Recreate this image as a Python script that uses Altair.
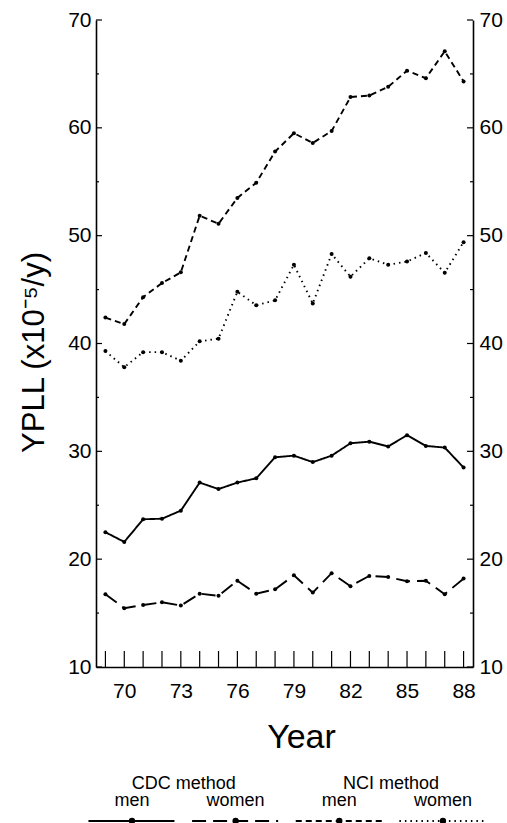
import altair as alt
import pandas as pd

# ---------------- data ----------------
years = list(range(69, 89))
cdc_men = [22.5, 21.6, 23.7, 23.75, 24.5, 27.1, 26.5, 27.1, 27.5, 29.45,
           29.6, 29.0, 29.6, 30.75, 30.9, 30.45, 31.5, 30.5, 30.35, 28.5]
cdc_women = [16.75, 15.45, 15.75, 16.0, 15.7, 16.8, 16.6, 18.0, 16.8, 17.2,
             18.5, 16.9, 18.7, 17.5, 18.45, 18.35, 17.95, 18.0, 16.75, 18.2]
nci_men = [42.4, 41.8, 44.3, 45.6, 46.6, 51.85, 51.1, 53.5, 54.9, 57.8,
           59.5, 58.6, 59.7, 62.85, 63.0, 63.8, 65.3, 64.6, 67.1, 64.3]
nci_women = [39.3, 37.8, 39.2, 39.2, 38.4, 40.2, 40.45, 44.8, 43.55, 44.0,
             47.3, 43.7, 48.3, 46.2, 47.9, 47.3, 47.6, 48.4, 46.55, 49.4]

series_names = ["CDC men", "CDC women", "NCI men", "NCI women"]
series_methods = ["CDC method", "CDC method", "NCI method", "NCI method"]
series_sexes = ["men", "women", "men", "women"]
series_dash = [[1, 0], [14, 7], [6, 4], [1.5, 4]]

x_label_values = [70, 73, 76, 79, 82, 85, 88]
y_major = [10, 20, 30, 40, 50, 60, 70]
y_minor = [15, 25, 35, 45, 55, 65]

# ---------------- tables ----------------
values = [cdc_men, cdc_women, nci_men, nci_women]
rows = []
for name, vals in zip(series_names, values):
    for yr, v in zip(years, vals):
        rows.append({"year": yr, "value": v, "series": name})
df = pd.DataFrame(rows)

df_years = pd.DataFrame({"year": years})
df_major = pd.DataFrame({"v": y_major})
df_minor = pd.DataFrame({"v": y_minor})

leg = pd.DataFrame({
    "idx": [1, 2, 3, 4],
    "series": series_names,
    "method": series_methods,
    "sex": series_sexes,
})
heads = leg.groupby("method", as_index=False)["idx"].mean()

FONT = "Liberation Sans"
X_MIN, X_MAX = 68.5, 88.5
Y_MIN, Y_MAX = 10, 70
W = 377          # plot width
H_PLOT = 647     # height of the data rectangle
H_ALL = 803      # data rectangle + legend strip

xs = alt.Scale(domain=[X_MIN, X_MAX], nice=False, zero=False)
ys = alt.Scale(domain=[Y_MIN, Y_MAX], range=[H_PLOT, 0], nice=False, zero=False)
dash_scale = alt.Scale(domain=series_names, range=series_dash)

x_axis = alt.Axis(values=x_label_values, format="d", title="Year",
                  offset=H_PLOT - H_ALL,
                  ticks=False, tickSize=0, grid=False, labelFlush=False,
                  domainColor="black", domainWidth=1.6,
                  labelFont=FONT, labelFontSize=21, labelColor="black",
                  labelPadding=13,
                  titleFont=FONT, titleFontSize=34, titleFontWeight="normal",
                  titleColor="black", titleBaseline="alphabetic",
                  titleX=205, titleY=80)

y_axis_left = alt.Axis(orient="left", values=y_major, format="d",
                       title="YPLL (x10⁻⁵/y)",
                       ticks=False, tickSize=0, grid=False, labelFlush=False,
                       domainColor="black", domainWidth=1.6,
                       labelFont=FONT, labelFontSize=21, labelColor="black",
                       labelPadding=5,
                       titleFont=FONT, titleFontSize=31,
                       titleFontWeight="normal", titleColor="black",
                       titleAngle=270, titleBaseline="alphabetic",
                       titleAlign="center", titleX=-53, titleY=332)

y_axis_right = alt.Axis(orient="right", values=y_major, format="d",
                        title=None,
                        ticks=False, tickSize=0, grid=False, labelFlush=False,
                        domainColor="black", domainWidth=1.6,
                        labelFont=FONT, labelFontSize=21, labelColor="black",
                        labelPadding=6)

base = alt.Chart(df)

lines = base.mark_line(strokeWidth=1.9, color="black").encode(
    x=alt.X("year:Q", scale=xs, axis=x_axis),
    y=alt.Y("value:Q", scale=ys, axis=y_axis_left),
    strokeDash=alt.StrokeDash("series:N", scale=dash_scale, legend=None),
    detail="series:N",
)

points = base.mark_circle(size=16, color="black", opacity=1).encode(
    x=alt.X("year:Q", scale=xs, axis=None),
    y=alt.Y("value:Q", scale=ys, axis=None),
)

left_major = alt.Chart(df_major).mark_rule(color="black", strokeWidth=1.2,
                                           x2Offset=6).encode(
    x=alt.XDatum(X_MIN, scale=xs, axis=None),
    x2=alt.X2Datum(X_MIN),
    y=alt.Y("v:Q", scale=ys, axis=None),
)
left_minor = alt.Chart(df_minor).mark_rule(color="black", strokeWidth=1.2,
                                           x2Offset=3).encode(
    x=alt.XDatum(X_MIN, scale=xs, axis=None),
    x2=alt.X2Datum(X_MIN),
    y=alt.Y("v:Q", scale=ys, axis=None),
)
right_major = alt.Chart(df_major).mark_rule(color="black", strokeWidth=1.2,
                                            x2Offset=-6).encode(
    x=alt.XDatum(X_MAX, scale=xs, axis=None),
    x2=alt.X2Datum(X_MAX),
    y=alt.Y("v:Q", scale=ys, axis=y_axis_right),
)
right_minor = alt.Chart(df_minor).mark_rule(color="black", strokeWidth=1.2,
                                            x2Offset=-3).encode(
    x=alt.XDatum(X_MAX, scale=xs, axis=None),
    x2=alt.X2Datum(X_MAX),
    y=alt.Y("v:Q", scale=ys, axis=None),
)
bottom_ticks = alt.Chart(df_years).mark_rule(color="black", strokeWidth=1.2,
                                             y2Offset=-16).encode(
    x=alt.X("year:Q", scale=xs, axis=None),
    y=alt.YDatum(Y_MIN, scale=ys, axis=None),
    y2=alt.Y2Datum(Y_MIN),
)

# ---------------- legend strip (own scales, below the plot) ----------------
lx = alt.Scale(domain=[0.653, 4.29], nice=False, zero=False)
ly = alt.Scale(domain=[-0.138, 3.31], range=[H_ALL, H_ALL - 50],
               nice=False, zero=False)

leg_base = alt.Chart(leg)
leg_lines = leg_base.mark_rule(strokeWidth=1.9, color="black").transform_calculate(
    x1="datum.idx - 0.42", x2="datum.idx + 0.41"
).encode(
    x=alt.X("x1:Q", scale=lx, axis=None),
    x2="x2:Q",
    y=alt.YDatum(0, scale=ly, axis=None),
    strokeDash=alt.StrokeDash("series:N", scale=dash_scale, legend=None),
)
leg_dots = leg_base.mark_circle(size=40, color="black", opacity=1).encode(
    x=alt.X("idx:Q", scale=lx, axis=None),
    y=alt.YDatum(0, scale=ly, axis=None),
)
leg_sex = leg_base.mark_text(font=FONT, fontSize=18, color="black",
                             baseline="alphabetic", align="center").encode(
    x=alt.X("idx:Q", scale=lx, axis=None),
    y=alt.YDatum(1, scale=ly, axis=None),
    text="sex:N",
)
leg_head = alt.Chart(heads).mark_text(font=FONT, fontSize=18, color="black",
                                      baseline="alphabetic",
                                      align="center").encode(
    x=alt.X("idx:Q", scale=lx, axis=None),
    y=alt.YDatum(2.2, scale=ly, axis=None),
    text="method:N",
)

chart = alt.layer(
    lines, points, left_major, left_minor, right_major, right_minor,
    bottom_ticks, leg_lines, leg_dots, leg_sex, leg_head
).resolve_scale(
    x="independent", y="independent"
).properties(
    width=W, height=H_ALL,
    autosize=alt.AutoSizeParams(type="none"),
    padding={"left": 96, "top": 20, "right": 34, "bottom": 0},
).configure_view(stroke=None)

chart.save("out.html", embed_options={"renderer": "svg", "actions": False})
